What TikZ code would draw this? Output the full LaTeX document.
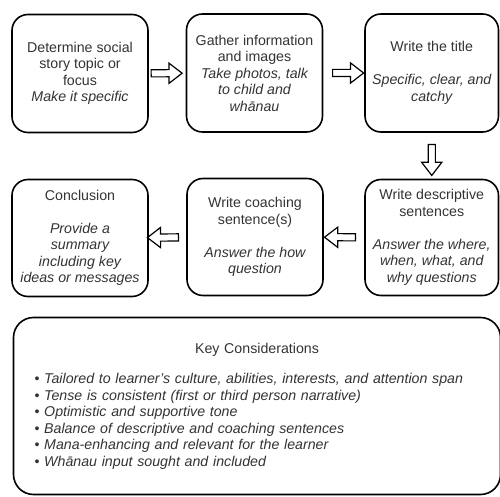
\documentclass[tikz,border=0pt]{standalone}
\usepackage{fontspec}
\setmainfont{Liberation Sans}
\usetikzlibrary{shapes.arrows}

\begin{document}
\begin{tikzpicture}[x=1pt, y=1pt,
    stepbox/.style={draw, rounded corners=16pt, line width=1.6pt, inner sep=0pt,
        align=center, text=black!80, font=\fontsize{14.2}{16.5}\selectfont},
    hollowarrow/.style={single arrow, draw, line width=1.2pt, inner xsep=0pt, inner ysep=3pt,
        minimum height=31pt, single arrow head extend=6.5pt,
        single arrow tip angle=75, sloped, allow upside down}]

    % Define box size
    \def\boxw{136}  % width of a step box
    \def\boxh{118}  % height of a step box

    \useasboundingbox (0,0) rectangle (500,-497);

    % Top row
    \node[stepbox, minimum width=\boxw, minimum height=\boxh] (topic) at (80,-73.5)
        {Determine social\\ story topic or\\ focus\\ \itshape Make it specific};
    \node[stepbox, minimum width=\boxw, minimum height=\boxh] (gather) at (254.5,-73)
        {Gather information\\ and images\\ \itshape Take photos, talk\\ \itshape to child and\\ \itshape wh\={a}nau};
    \node[stepbox, minimum width=133.5, minimum height=\boxh] (title) at (431.75,-73)
        {Write the title\\[16.5pt] \itshape Specific, clear, and\\ \itshape catchy};

    % Bottom row
    \node[stepbox, minimum width=133.5, minimum height=116] (describe) at (431.75,-237.5)
        {Write descriptive\\ sentences\\[16.5pt] \itshape Answer the where,\\ \itshape when, what, and\\ \itshape why questions};
    \node[stepbox, minimum width=\boxw, minimum height=117] (coach) at (255,-237)
        {Write coaching\\ sentence(s)\\[16.5pt] \itshape Answer the how\\ \itshape question};
    \node[stepbox, minimum width=\boxw, minimum height=117] (conclude) at (80,-238)
        {Conclusion\\[16.5pt] \itshape Provide a\\ \itshape summary\\ \itshape including key\\ \itshape ideas or messages};

    % Key considerations
    \node[stepbox, rounded corners=20pt, minimum width=487, minimum height=177,
        text width=445pt, align=left] (keys) at (257,-406)
        {\centering Key Considerations\par\vspace{14pt}\raggedright
         \textbullet\ \textit{Tailored to learner's culture, abilities, interests, and attention span}\\
         \textbullet\ \textit{Tense is consistent (first or third person narrative)}\\
         \textbullet\ \textit{Optimistic and supportive tone}\\
         \textbullet\ \textit{Balance of descriptive and coaching sentences}\\
         \textbullet\ \textit{Mana-enhancing and relevant for the learner}\\
         \textbullet\ \textit{Wh\={a}nau input sought and included}};

    % Arrows between steps
    \path (topic) -- node[hollowarrow, pos=0.42] (a1) {} (gather);
    \path (gather) -- node[hollowarrow, pos=0.55] (a2) {} (title);
    \path (title) -- node[hollowarrow, pos=0.54] (a3) {} (describe);
    \path (describe) -- node[hollowarrow, pos=0.54] (a4) {} (coach);
    \path (coach) -- node[hollowarrow, pos=0.56] (a5) {} (conclude);

\end{tikzpicture}
\end{document}
